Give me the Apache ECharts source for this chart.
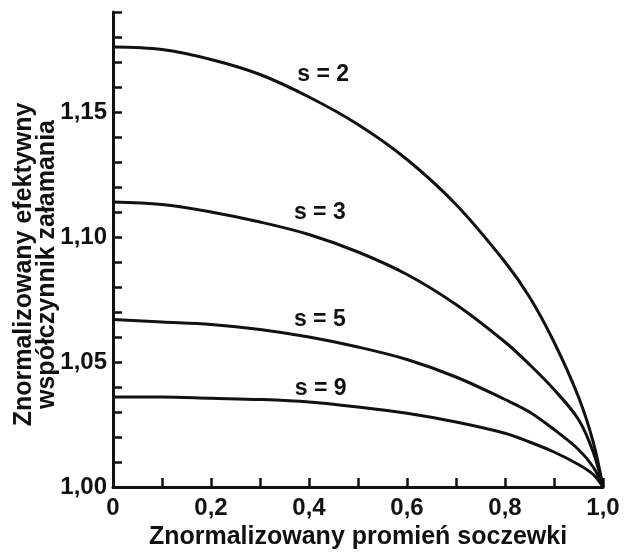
<!DOCTYPE html>
<html>
<head>
<meta charset="utf-8">
<script src="https://cdn.jsdelivr.net/npm/echarts@6/dist/echarts.min.js"></script>
<style>
html,body{margin:0;padding:0;background:#fff;}
#chart{width:624px;height:552px;}
</style>
</head>
<body>
<div id="chart"></div>
<script>
// Normalized lens radius (x values)
var radius = [0, 0.1, 0.2, 0.3, 0.4, 0.5, 0.6, 0.7, 0.8, 0.85, 0.9, 0.95, 0.98, 1.0];
// Normalized effective refractive index for each s
var s2 = [1.176, 1.175, 1.171, 1.165, 1.156, 1.145, 1.131, 1.113, 1.090, 1.076, 1.058, 1.036, 1.018, 1.0];
var s3 = [1.114, 1.113, 1.110, 1.106, 1.101, 1.094, 1.085, 1.073, 1.058, 1.049, 1.039, 1.027, 1.014, 1.0];
var s5 = [1.067, 1.066, 1.065, 1.063, 1.060, 1.056, 1.051, 1.044, 1.035, 1.030, 1.023, 1.015, 1.008, 1.0];
var s9 = [1.036, 1.036, 1.0355, 1.035, 1.034, 1.032, 1.0295, 1.026, 1.0215, 1.018, 1.014, 1.009, 1.005, 1.0];
var seriesNames = ['s = 2', 's = 3', 's = 5', 's = 9'];
// Curve label anchors (data coordinates)
var labelAnchors = [[0.429, 1.1648], [0.422, 1.1096], [0.422, 1.0668], [0.424, 1.0392]];
// Tick labels
var xTickLabels = ['0', '0,2', '0,4', '0,6', '0,8', '1,0'];
var yTickLabels = ['1,00', '1,05', '1,10', '1,15'];

var FONT = '"Liberation Sans", Arial, sans-serif';
var INK = '#111';

function pairs(ys) { return radius.map(function (r, i) { return [r, ys[i]]; }); }

var allY = [s2, s3, s5, s9];
var series = allY.map(function (ys, k) {
  return {
    name: seriesNames[k],
    type: 'line',
    data: pairs(ys),
    smooth: 0.35,
    showSymbol: false,
    lineStyle: { color: INK, width: 3 },
    markPoint: {
      symbol: 'circle',
      symbolSize: 0,
      data: [{ coord: labelAnchors[k] }],
      label: {
        show: true, position: 'inside', formatter: seriesNames[k],
        color: INK, fontFamily: FONT, fontWeight: 'bold', fontSize: 23
      }
    }
  };
});

var chart = echarts.init(document.getElementById('chart'), null, { renderer: 'canvas' });
chart.setOption({
  backgroundColor: '#fff',
  animation: false,
  grid: { left: 113, right: 21, top: 12, bottom: 65, containLabel: false, outerBoundsMode: 'none' },
  xAxis: {
    type: 'value', min: 0, max: 1, interval: 0.1,
    name: 'Znormalizowany promień soczewki',
    nameLocation: 'middle', nameGap: 38,
    nameTextStyle: { color: INK, fontFamily: FONT, fontWeight: 'bold', fontSize: 25 },
    axisLine: { show: true, onZero: false, lineStyle: { color: INK, width: 3 } },
    axisTick: { show: true, inside: true, length: 9, lineStyle: { color: INK, width: 2.5 } },
    splitLine: { show: false },
    axisLabel: {
      color: INK, fontFamily: FONT, fontWeight: 'bold', fontSize: 24, margin: 9,
      showMinLabel: true, showMaxLabel: true,
      formatter: function (v) {
        var k = Math.round(v * 10);
        return k % 2 === 0 ? xTickLabels[k / 2] : '';
      }
    }
  },
  yAxis: {
    type: 'value', min: 1.0, max: 1.19, interval: 0.01,
    name: 'Znormalizowany efektywny\nwspółczynnik załamania',
    nameLocation: 'middle', nameGap: 54, nameRotate: 90, nameMoveOverlap: false,
    nameTextStyle: { color: INK, fontFamily: FONT, fontWeight: 'bold', fontSize: 25, lineHeight: 23, padding: [0, 30, 0, 0] },
    axisLine: { show: true, onZero: false, lineStyle: { color: INK, width: 3 } },
    axisTick: { show: true, inside: true, length: 9, lineStyle: { color: INK, width: 2.5 } },
    splitLine: { show: false },
    axisLabel: {
      color: INK, fontFamily: FONT, fontWeight: 'bold', fontSize: 24, margin: 6,
      formatter: function (v) {
        var k = Math.round((v - 1) * 100);
        return k % 5 === 0 ? (yTickLabels[k / 5] || '') : '';
      }
    }
  },
  series: series
});
</script>
</body>
</html>
